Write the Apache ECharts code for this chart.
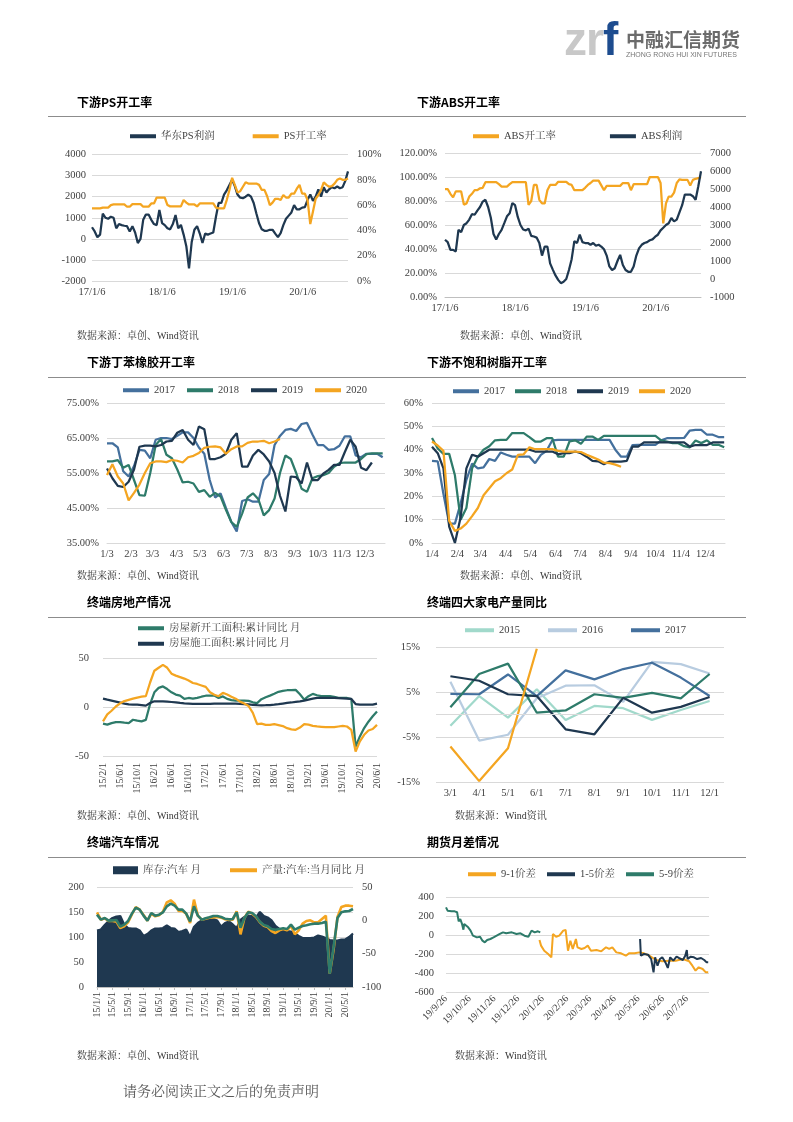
<!DOCTYPE html>
<html><head><meta charset="utf-8">
<script src="https://cdn.jsdelivr.net/npm/echarts@6/dist/echarts.min.js"></script>
<style>
html,body{margin:0;padding:0;background:#fff;}
#page{position:relative;width:793px;height:1122px;overflow:hidden;background:#fff;}
#chart{position:absolute;left:0;top:0;width:793px;height:1122px;}
.t{position:absolute;white-space:nowrap;}
.title{font-family:"Noto Sans CJK SC",sans-serif;font-weight:bold;font-size:12px;color:#000;line-height:16px;}
.src{font-family:"Liberation Serif","Noto Serif CJK SC","Noto Sans CJK SC",serif;font-size:10px;color:#333;line-height:14px;}
.rule{position:absolute;left:48px;width:698px;height:1px;background:#8c8c8c;}
</style></head>
<body><div id="page">
<div id="chart"></div>
<div class="t" style="left:564px;top:16px;font-family:'Liberation Sans',Arial,sans-serif;font-weight:bold;font-size:46px;line-height:46px;letter-spacing:-1px;"><span style="color:#c8c8c8">zr</span><span style="color:#1d4c8f">f</span></div>
<div class="t" style="left:626px;top:29px;font-family:'Noto Sans CJK SC',sans-serif;font-weight:bold;font-size:19px;line-height:19px;color:#6b6b6b;">中融汇信期货</div>
<div class="t" style="left:626px;top:50px;font-family:'Liberation Sans',Arial,sans-serif;font-size:7px;line-height:9px;color:#777;">ZHONG RONG HUI XIN FUTURES</div>

<div class="t title" style="left:77px;top:94px;">下游PS开工率</div>
<div class="t title" style="left:417px;top:94px;">下游ABS开工率</div>
<div class="rule" style="top:116px;"></div>
<div class="t title" style="left:87px;top:354px;">下游丁苯橡胶开工率</div>
<div class="t title" style="left:427px;top:354px;">下游不饱和树脂开工率</div>
<div class="rule" style="top:377px;"></div>
<div class="t title" style="left:87px;top:594px;">终端房地产情况</div>
<div class="t title" style="left:427px;top:594px;">终端四大家电产量同比</div>
<div class="rule" style="top:617px;"></div>
<div class="t title" style="left:87px;top:834px;">终端汽车情况</div>
<div class="t title" style="left:427px;top:834px;">期货月差情况</div>
<div class="rule" style="top:857px;"></div>

<div class="t src" style="left:77px;top:329px;">数据来源：卓创、Wind资讯</div>
<div class="t src" style="left:460px;top:329px;">数据来源：卓创、Wind资讯</div>
<div class="t src" style="left:77px;top:569px;">数据来源：卓创、Wind资讯</div>
<div class="t src" style="left:460px;top:569px;">数据来源：卓创、Wind资讯</div>
<div class="t src" style="left:77px;top:809px;">数据来源：卓创、Wind资讯</div>
<div class="t src" style="left:455px;top:809px;">数据来源：Wind资讯</div>
<div class="t src" style="left:77px;top:1049px;">数据来源：卓创、Wind资讯</div>
<div class="t src" style="left:455px;top:1049px;">数据来源：Wind资讯</div>

<div class="t" style="left:123px;top:1084px;font-family:'Liberation Serif','Noto Serif CJK SC','Noto Sans CJK SC',serif;font-size:14px;line-height:16px;color:#595959;">请务必阅读正文之后的免责声明</div>
</div>
<script>
// ---------- Chart 1: 下游PS开工率 (bi-weekly from 2017-01-06) ----------
const psStart = '2017-01-06';
const psStepDays = 14;
const psProfit = [550,350,80,200,1200,1000,950,1050,1000,500,
  700,650,620,600,350,600,300,-200,0,900,
  1150,1150,900,700,650,1370,750,650,500,450,
  700,1130,500,660,200,-350,-1400,-150,430,600,
  250,-200,250,200,250,300,1050,1700,1700,2100,
  2300,2550,2800,2500,2100,1950,1930,2000,2100,2000,
  1700,1200,740,450,380,380,430,430,250,80,
  270,650,950,1100,1250,1600,1400,1400,1480,1500,
  1850,2100,1800,2000,2350,2000,2450,2200,2350,2450,
  2400,2480,2400,2450,2750,3200];
const psRate = [57.4,57.4,57.4,57.4,58,58,58,60,60.5,60.5,
  60.5,60.5,60.5,58.7,58.7,60.8,60.8,60.8,60.8,58.7,
  58.7,58.7,61.3,61.3,66,66,66,66,60,59,
  59,59,59,59,64,62,60.5,60.5,60.5,59,
  61.3,61.3,61.3,61.3,61.3,61.3,58,57.4,57.4,57.4,
  64,72,81.6,76,70,71,74.5,78,77,77,
  77,77,76,72,72,67,60,62,65,65,
  64,68,66,66,69,69,73,76,69,69,
  64,45,55,65,68,72,78,76,74.5,75,
  77,80,81,80,80,81];

// ---------- Chart 2: 下游ABS开工率 (bi-weekly from 2017-01-06) ----------
const absRate = [90,90,86,83,88,88,88,77,78,83.7,
  86,89,89,90.6,91,95.7,95.7,95.7,95.7,95.7,
  94,92,92,92,94,95.7,95.7,95.7,95.7,95.7,
  95.7,76.7,80,93.4,93.4,81,78,78,89,93.4,
  93.4,93.4,96,96,96,96,94,93.4,89,89,
  89,89,91,93.4,95,97,97,97,93,89,
  92.6,92.6,92.6,92.6,92.6,92.6,95,95,95,89,
  94,94,94,94,94,94,100,100,100,100,
  95,61.4,78,83.7,83.7,87,95,98,97.6,97.6,
  97.6,93,97.6,98.5,99,100];
const absProfit = [2180,2050,1620,1620,1530,2730,2600,3000,3100,3300,
  3600,3570,3800,4000,4300,4400,4000,3400,2500,2200,
  2500,2730,3100,3480,3650,4220,4100,3450,3000,2750,
  2700,2800,2400,2360,2300,2000,1300,1800,1800,870,
  520,200,-50,-230,-150,0,500,1100,2100,2000,
  2460,2050,2000,2000,1900,2000,1850,1900,1800,1650,
  1300,700,500,600,1000,1340,780,500,400,400,
  700,1300,1700,1900,2000,2050,2150,2200,2350,2460,
  2700,2850,3000,3100,3390,3200,3300,3700,4100,4690,
  4690,4690,4600,4400,5150,5990];

// ---------- Chart 3: 下游丁苯橡胶开工率 (weekly from 1/3) ----------
const sbrTickLabels = ['1/3','2/3','3/3','4/3','5/3','6/3','7/3','8/3','9/3','10/3','11/3','12/3'];
const sbr2017 = [63.5,63.5,62.3,55.5,54,57,61.6,61.4,59.2,64.5,
  65,65,64.7,65.6,66.6,66.6,65,62.3,60.5,53,
  48,49.2,45,41,38.3,47,47.5,46.8,46.8,53,
  54.7,63,65.6,67.3,67.6,67,69,69.3,66,63,
  63,61.6,61.8,62.8,65.5,65.5,60,59.5,60.5,60.5,
  60.5,59.5];
const sbr2018 = [58.3,58.3,58.7,56.5,57.3,53,48.7,48.5,55,63,
  64.7,60.2,59.2,56,52.3,52.5,52,49.6,50.1,48.2,
  49.3,48.3,44.5,41,39.6,43.4,48,49.2,47.5,42.9,
  44.4,47.7,55,60,59,55,50.5,49.6,53.5,54.1,
  54.4,55,56.8,57.8,58,58,58,59,60.4,60.6,
  60.6,60.6];
const sbr2019 = [56.3,53.5,51.3,51,52.5,56,62.5,62.8,62.8,62.6,
  63,64,64.2,66.5,67.3,64.5,63,68.3,67.5,59,
  59,59.5,60.5,64.5,66.4,56.8,56.8,60,61.6,60.3,
  58.3,55,48.5,44,54,53.8,52,58,53,53,
  54.8,55.9,57.3,57.3,61,64.5,62.5,56.5,55.8,58];
const sbr2020 = [54.4,57.5,54,52,47.2,49.3,51.7,55,57.8,58.3,
  58.3,58.1,58.7,58.5,58,59.5,59.9,60.7,62.2,62.5,
  62.6,62.3,60.5,61.8,62.6,62.6,63.6,64,64,64.2,
  63.5,64,64.7];

// ---------- Chart 4: 下游不饱和树脂开工率 (weekly from 1/4) ----------
const uprTickLabels = ['1/4','2/4','3/4','4/4','5/4','6/4','7/4','8/4','9/4','10/4','11/4','12/4'];
const upr2017 = [35.2,35,21,8.3,8.3,17,27,34,32,32.4,
  36,35.2,38.8,37.8,37,37,37,37,34.2,37.8,
  39.5,44,44.2,44.2,44.2,44.2,44.2,44.2,44.2,44.2,
  44.2,44.2,40,37,37,42,42.1,42.1,42.1,42.1,
  44,44.9,44.9,44.9,45,48.2,48.5,48.5,46.4,46.4,
  45.4,45.4];
const upr2018 = [45,40.5,38.2,38.2,29,10,15,32,37,40,
  41.5,44,44.2,44.2,47.1,47.1,47.1,45.4,43.5,43.5,
  44.9,44.9,37,37,43.5,44,42.5,45.6,45.6,44.2,
  45.9,45.9,45.9,45.9,45.9,45.9,45.9,45.9,45.9,45.9,
  44,43.5,42.8,42.8,41.5,41,43.9,42.8,44,42.1,
  42.1,41];
const upr2019 = [41.3,38.5,32,7,0,11,32,37.8,37,38.5,
  40,40,40,40,40,40,40,40,39.2,39.2,
  39.2,39.2,38,38.5,38.5,39.2,38.5,37,35.2,35,
  33.8,34.9,34.9,34.9,35.2,41.3,41.3,43.1,43.1,43.1,
  43.1,43.1,43.1,43.1,43.1,41.3,42,42,42,43.1,
  43.1,43.1];
const upr2020 = [43.5,41.8,39.5,9.5,5.2,6.2,8.3,11.5,15,20.5,
  23.5,26.5,27.8,29.9,31.5,37.8,38,41,40.2,40.2,
  40.2,40.2,39.5,39.2,39.2,39.2,39,37.8,36.8,35.8,
  34.4,34.2,33.6,32.7];

// ---------- Chart 5: 终端房地产情况 (monthly 2015-02 .. 2020-06) ----------
const reNewStart = [-17,-18,-16.4,-15.4,-15.5,-16,-16.4,-13,-14,-14.7,
  -13.2,3,15,19.5,21,18.3,15,12.7,11.6,8.2,
  9.2,8.6,9.3,10.5,11.5,11.6,11.6,9.2,10.8,8.3,
  7,6.5,6.5,6.5,6.3,4.8,4,8,10,11.6,
  13.5,15.5,16.5,17.1,17.1,17.5,13,7.5,11,13.4,
  12,11.2,11,11,10.3,9.3,9.2,9.2,8,-40.4,
  -30,-21.5,-15,-9.5,-4.5];
const reConstruction = [8.6,7.5,6.5,5.5,4.5,3.5,2.6,2.4,2.5,2,
  1.4,4,5.8,5.8,5.8,5.5,5.1,4.7,4.1,3.6,
  3.4,3.2,3.1,3.1,3.2,3.3,3.4,3.4,3.4,3.4,
  3.4,3.4,3.3,3,2.6,2.2,1.8,1.7,1.8,2,
  2.4,2.9,3.5,4.1,4.6,5.2,5.8,6.5,7.5,8.5,
  9.2,9.2,9.2,9.2,9.2,9,8.8,8.5,8.2,3,
  2.4,2.4,2.4,2.5,3.4];
const reThird = [-14.7,-7.6,-3.8,0.5,3.8,6,7.3,8.5,9.6,10.5,
  11,25,37,40,43,40,34,32,30.5,29,
  27,24.5,23.5,22,20.5,15,12.5,11,14.5,12.7,
  10.5,8.5,5.5,3.5,1,-6,-17.5,-17,-18.2,-18.2,
  -17.5,-18.5,-19.5,-21.6,-22.8,-23.3,-21,-17.5,-18,-19.2,
  -19.8,-20.2,-20.6,-20.6,-20.6,-19.9,-19.2,-19.9,-23.3,-45.5,
  -35,-28.4,-24,-22.5,-18.2];

// ---------- Chart 6: 终端四大家电产量同比 ----------
const apMonths = ['3/1','4/1','5/1','6/1','7/1','8/1','9/1','10/1','11/1','12/1'];
const ap2015 = [-2.5,4.1,-0.7,5.6,-1.2,1.9,1.4,-1.2,1,3];
const ap2016 = [7.3,-5.8,-4.5,3.6,6.4,6.5,2.8,11.7,11.2,9.1];
const ap2017 = [4.6,4.5,8.9,4.1,9.8,7.8,10.1,11.5,8.2,4.1];
const ap2018 = [1.6,9,11.3,0.4,0.9,4.5,3.7,4.8,3.6,9];
const ap2019 = [8.5,7.5,4.5,4.1,-3.3,-4.4,3.7,0.4,1.7,3.9];
const ap2020 = [-7.1,-14.8,-7.5,14.6];

// ---------- Chart 7: 终端汽车情况 (monthly 2015-01 .. 2020-07) ----------
const carInventory = [113,115,124,132,138,141,142,125,118,117,
  117,113,102,106,113,117,117,118,123,118,
  117,110,112,115,100,120,128,133,135,136,
  136,133,121,128,131,125,118,134,140,143,
  142,139,150,142,139,133,122,116,115,112,
  111,107,102,98,98,98,99,103,101,98,
  94,93,93,95,95,100,107];
const carOutputYoy = [12,1,3,-1,-1,-2,-11.5,-9,-3,9,
  20,16,8,-0.5,10,6,7.5,13,27,30,
  25,14,14,10,-4,31,7,1,2.5,4,
  4.5,5,4,1.5,0.5,1,13.5,-21,3.5,13,
  10,5,-3,-8,-10,-16,-19,-15,-13,-15,
  -8,-21,-15,-5,-1,0,-3,-3,2,7,
  -80,-44,5,20,22,22,21];
const carThirdYoy = [8.5,1,3.5,-0.5,0,0.5,-9.5,-6.5,-1,10,
  19,16,7,-0.5,11,7,8.5,12,21,25,
  22,16,16,10,-1.5,21,7,1,3,4.5,
  6.5,6.5,5,2.5,1.5,2,12,-11,3.5,12,
  11,6,-2,-7,-9,-13,-14,-13,-12,-13,
  -6.5,-14,-11,-8.5,-7.5,-6,-5,-5,-4,-2,
  -80,-40,3.5,12,13.5,14,17];

// ---------- Chart 8: 期货月差情况 (days since 19/9/26) ----------
const spreadTickLabels = ['19/9/26','19/10/26','19/11/26','19/12/26','20/1/26','20/2/26','20/3/26','20/4/26','20/5/26','20/6/26','20/7/26'];
const spread59Days = [0,2,7,11,14,16,18,20,22,23,25,28,31,34,39,43,46,49,52,56,60,64,68,72,76,83,89,94,99,104,108,112,116,119];
const spread59 = [291,256,249,249,239,144,168,123,56,116,98,81,46,-7,-25,-18,-60,-77,-53,-42,-25,-7,11,28,18,28,11,18,-7,-18,46,28,39,28];
const spread91Days = [118,120,124,129,133,135,139,143,148,151,153,154,157,160,164,166,171,175,179,183,190,196,202,206,210,215,221,227,231,238,244,250,257,265,273,282,290,299,307,311,315,319,324,328,331];
const spread91 = [-53,-112,-165,-200,-235,11,-18,-7,46,53,46,-165,-60,-147,-42,-130,-147,-137,-112,-165,-158,-172,-130,-147,-130,-183,-193,-218,-193,-193,-183,-193,-218,-263,-277,-270,-270,-253,-277,-323,-375,-340,-358,-393,-393];
const spread15Days = [245,246,250,255,259,262,264,267,270,273,277,280,283,287,291,294,299,302,304,305,309,313,317,322,326,329,331];
const spread15 = [-42,-218,-200,-207,-253,-393,-235,-323,-253,-235,-288,-347,-235,-270,-228,-242,-263,-218,-158,-253,-228,-235,-253,-242,-263,-288,-288];

// ---------- helpers ----------
const FONT = '"Liberation Serif","Noto Serif CJK SC","Noto Sans CJK SC",serif';
const C = {navy:'#1F3850', orange:'#F4A521', blue:'#44709D', green:'#2E7B6A', lteal:'#A1D9CB', lblue:'#B8CCE0', grid:'#D9D9D9', text:'#404040'};
const DAY = 864e5;
function stepPairs(vals, step){ return vals.map((v,i)=>[i*step, v]); }
function zip(xs, ys){ return xs.map((x,i)=>[x, ys[i]]); }
function monthCats(y0,m0,y1,m1){ const out=[]; let y=y0,m=m0; while(y<y1||(y===y1&&m<=m1)){ out.push((y%100)+'/'+m+'/1'); m++; if(m>12){m=1;y++;} } return out; }
function mdOffsets(labels, year){ const p=s=>{const [m,d]=s.split('/').map(Number); return Date.UTC(year,m-1,d);}; const b=p(labels[0]); return labels.map(s=>Math.round((p(s)-b)/DAY)); }
function ymdOffsets(labels){ const p=s=>{const [y,m,d]=s.split('/').map(Number); return Date.UTC(2000+y,m-1,d);}; const b=p(labels[0]); return labels.map(s=>Math.round((p(s)-b)/DAY)); }
function lookupFmt(days, labels){ return v=>{ const i=days.indexOf(Math.round(v)); return i>=0?labels[i]:''; }; }
const psBase = Date.parse(psStart+'T00:00:00Z');
function psDateFmt(v){ const d=new Date(psBase+v*DAY); return (d.getUTCFullYear()%100)+'/'+(d.getUTCMonth()+1)+'/'+d.getUTCDate(); }

const sbrTickDays = mdOffsets(sbrTickLabels, 2017);
const uprTickDays = mdOffsets(uprTickLabels, 2017);
const spreadTickDays = ymdOffsets(spreadTickLabels);
const reMonths = monthCats(2015,2,2020,6);
const carMonths = monthCats(2015,1,2020,7);

const plain = v => String(v);
const AL = (extra)=>Object.assign({color:C.text, fontSize:10.5, fontFamily:FONT, formatter:plain}, extra||{});
const SPLIT = {show:true, lineStyle:{color:C.grid, width:1}};
const NOLINE = {show:false};
function grid(l,t,w,h){ return {left:l, top:t, width:w, height:h, containLabel:false, outerBoundsMode:'none'}; }
function yVal(gi, o){ return Object.assign({type:'value', gridIndex:gi, axisLine:NOLINE, axisTick:{show:false}, splitLine:SPLIT}, o); }
function line(name, xi, yi, data, color, width, extra){ return Object.assign({type:'line', name, xAxisIndex:xi, yAxisIndex:yi, data, showSymbol:false, symbol:'none', lineStyle:{color, width:width||2.25}, itemStyle:{color}, animation:false}, extra||{}); }
function legend(left, top, names, o){ return Object.assign({left, top, data:names, icon:'rect', itemWidth:26, itemHeight:4, itemGap:12, selectedMode:false, textStyle:{color:C.text, fontSize:10.5, fontFamily:FONT}}, o||{}); }

const option = {
  animation:false,
  backgroundColor:'transparent',
  grid:[
    grid(92,154.5,256,126.5),
    grid(445,153,256,144),
    grid(107,403,278,140),
    grid(432,403,293,140),
    grid(103,658,274,98),
    grid(436,647,288,135),
    grid(97,887,256,100),
    grid(446,897,263,95)
  ],
  legend:[
    legend(125,126,['华东PS利润','PS开工率'],{itemGap:38}),
    legend(468,126,['ABS开工率','ABS利润'],{itemGap:54}),
    legend(118,380,['2017','2018','2019','2020'],{itemGap:12}),
    legend(448,381,['2017','2018','2019','2020'],{itemGap:10}),
    legend(133,618,['房屋新开工面积:累计同比 月','房屋施工面积:累计同比 月'],{orient:'vertical', itemGap:5}),
    legend(460,620,['2015','2016','2017'],{itemWidth:29, itemGap:28}),
    legend(108,860,['库存:汽车 月'],{itemWidth:25, itemHeight:8}),
    legend(225,860,['产量:汽车:当月同比 月'],{itemWidth:27}),
    legend(463,864,['9-1价差','1-5价差','5-9价差'],{itemWidth:28, itemGap:11})
  ],
  xAxis:[
    {type:'value', gridIndex:0, min:0, max:1330, interval:365, splitLine:NOLINE, axisTick:{show:false}, axisLine:{show:true, lineStyle:{color:C.grid}}, axisLabel:AL({formatter:psDateFmt, showMaxLabel:false, margin:6})},
    {type:'value', gridIndex:1, min:0, max:1330, interval:365, splitLine:NOLINE, axisTick:{show:false}, axisLine:{show:true, lineStyle:{color:'#bfbfbf'}}, axisLabel:AL({formatter:psDateFmt, showMaxLabel:false, margin:6})},
    {type:'value', gridIndex:2, min:0, max:360, splitLine:NOLINE, axisTick:{show:false}, axisLine:{show:true, lineStyle:{color:C.grid}}, axisLabel:AL({customValues:sbrTickDays, formatter:lookupFmt(sbrTickDays, sbrTickLabels), margin:6})},
    {type:'value', gridIndex:3, min:0, max:358, splitLine:NOLINE, axisTick:{show:false}, axisLine:{show:true, lineStyle:{color:C.grid}}, axisLabel:AL({customValues:uprTickDays, formatter:lookupFmt(uprTickDays, uprTickLabels), margin:6})},
    {type:'category', gridIndex:4, data:reMonths, boundaryGap:false, axisTick:{show:false}, axisLine:{show:false}, axisLabel:AL({interval:3, rotate:90, margin:7, fontSize:10})},
    {type:'category', gridIndex:5, data:apMonths, boundaryGap:true, axisTick:{show:false}, axisLine:{show:false, onZero:false}, axisLabel:AL({margin:6})},
    {type:'category', gridIndex:6, data:carMonths, boundaryGap:false, axisTick:{show:true, interval:3, length:3, lineStyle:{color:'#bfbfbf'}}, axisLine:{show:true, lineStyle:{color:'#bfbfbf'}}, axisLabel:AL({interval:3, rotate:90, margin:5, fontSize:10})},
    {type:'value', gridIndex:7, min:0, max:332, splitLine:NOLINE, axisTick:{show:false}, axisLine:{show:true, lineStyle:{color:C.grid}}, axisLabel:AL({customValues:spreadTickDays, formatter:lookupFmt(spreadTickDays, spreadTickLabels), rotate:45, margin:5, fontSize:10})}
  ],
  yAxis:[
    yVal(0,{min:-2000, max:4000, interval:1000, axisLabel:AL({margin:6})}),
    yVal(0,{position:'right', min:0, max:100, interval:20, splitLine:NOLINE, axisLabel:AL({formatter:'{value}%', margin:9})}),
    yVal(1,{min:0, max:120, interval:20, axisLabel:AL({formatter:v=>v.toFixed(2)+'%', margin:8})}),
    yVal(1,{position:'right', min:-1000, max:7000, interval:1000, splitLine:NOLINE, axisLabel:AL({margin:9})}),
    yVal(2,{min:35, max:75, interval:10, axisLabel:AL({formatter:v=>v.toFixed(2)+'%', margin:8})}),
    yVal(3,{min:0, max:60, interval:10, axisLabel:AL({formatter:'{value}%', margin:9})}),
    yVal(4,{min:-50, max:50, interval:50, axisLabel:AL({margin:14})}),
    yVal(5,{min:-15, max:15, interval:10, axisLabel:AL({formatter:'{value}%', margin:16})}),
    yVal(6,{min:0, max:200, interval:50, axisLabel:AL({margin:13})}),
    yVal(6,{position:'right', min:-100, max:50, interval:50, splitLine:NOLINE, axisLabel:AL({margin:9})}),
    yVal(7,{min:-600, max:400, interval:200, axisLabel:AL({margin:12})})
  ],
  series:[
    line('华东PS利润',0,0,stepPairs(psProfit,psStepDays),C.navy),
    line('PS开工率',0,1,stepPairs(psRate,psStepDays),C.orange),
    line('ABS开工率',1,2,stepPairs(absRate,psStepDays),C.orange),
    line('ABS利润',1,3,stepPairs(absProfit,psStepDays),C.navy),
    line('2017',2,4,stepPairs(sbr2017,7),C.blue),
    line('2018',2,4,stepPairs(sbr2018,7),C.green),
    line('2019',2,4,stepPairs(sbr2019,7),C.navy),
    line('2020',2,4,stepPairs(sbr2020,7),C.orange),
    line('2017',3,5,stepPairs(upr2017,7),C.blue),
    line('2018',3,5,stepPairs(upr2018,7),C.green),
    line('2019',3,5,stepPairs(upr2019,7),C.navy),
    line('2020',3,5,stepPairs(upr2020,7),C.orange),
    line('房屋新开工面积:累计同比 月',4,6,reNewStart,C.green),
    line('房屋施工面积:累计同比 月',4,6,reConstruction,C.navy),
    line('re_s3',4,6,reThird,C.orange),
    line('2015',5,7,ap2015,C.lteal,2.25,{markLine:{silent:true, symbol:['none','none'], label:{show:false}, lineStyle:{color:C.grid, type:'solid', width:1}, data:[{yAxis:0}], animation:false}}),
    line('2016',5,7,ap2016,C.lblue),
    line('2017',5,7,ap2017,C.blue),
    line('2018',5,7,ap2018,C.green),
    line('2019',5,7,ap2019,C.navy),
    line('2020',5,7,ap2020,C.orange),
    line('库存:汽车 月',6,8,carInventory,C.navy,0,{areaStyle:{color:C.navy, opacity:1}}),
    line('产量:汽车:当月同比 月',6,9,carOutputYoy,C.orange,2.6),
    line('car_s3',6,9,carThirdYoy,C.green,2.6),
    line('9-1价差',7,10,zip(spread91Days,spread91),C.orange,2),
    line('1-5价差',7,10,zip(spread15Days,spread15),C.navy,2),
    line('5-9价差',7,10,zip(spread59Days,spread59),C.green,2)
  ]
};
const chart = echarts.init(document.getElementById('chart'), null, {renderer:'canvas'});
chart.setOption(option);
</script>
</body></html>
